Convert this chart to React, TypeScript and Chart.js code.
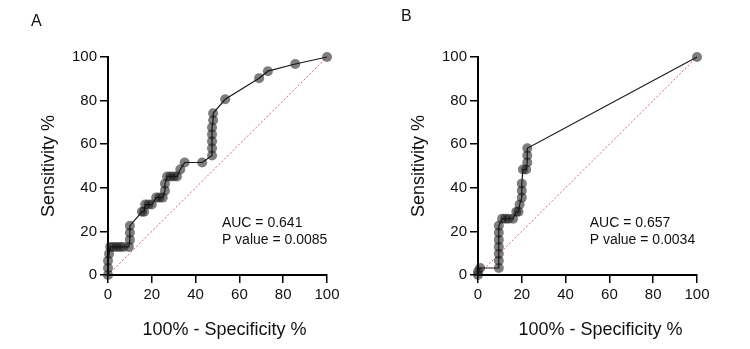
import React, { useEffect, useRef } from "react";
import { Chart, registerables } from "chart.js";

Chart.register(...registerables);

const FONT = "'Liberation Sans', Arial, Helvetica, sans-serif";

// Cohort A ROC curve: 100% - specificity (%) and sensitivity (%)
const rocAFpr = [
  0, 0, 0, 0.5, 1, 2.5, 4, 5.5, 7, 9.5, 10, 10, 10, 15.5, 16.5, 17, 18.5, 20,
  22, 23.5, 25, 26, 26, 27, 28.5, 30, 31.5, 33, 35, 43, 47.5, 47.5, 47.5, 47.5,
  47.5, 48, 48, 53.5, 69, 73, 85.5, 100,
];
const rocASens = [
  0, 3.2, 6.5, 9.7, 12.9, 12.9, 12.9, 12.9, 12.9, 12.9, 16.1, 19.4, 22.6, 29,
  29, 32.3, 32.3, 32.3, 35.5, 35.5, 35.5, 38.7, 41.9, 45.2, 45.2, 45.2, 45.2,
  48.4, 51.6, 51.6, 54.8, 58.1, 61.3, 64.5, 67.7, 71, 74.2, 80.6, 90.3, 93.5,
  96.8, 100,
];

// Cohort B ROC curve
const rocBFpr = [
  0, 0, 1, 9.5, 9.5, 9.5, 9.5, 9.5, 9.5, 9.5, 11, 12.5, 14, 16, 17.5, 18.5, 19,
  20, 20, 20, 20.5, 22, 22.5, 22.5, 22.5, 100,
];
const rocBSens = [
  0, 1.6, 3.2, 3.2, 6.5, 9.7, 12.9, 16.1, 19.4, 22.6, 25.8, 25.8, 25.8, 25.8,
  29, 29, 32.3, 35.5, 38.7, 41.9, 48.4, 48.4, 51.6, 54.8, 58.1, 100,
];

// Line of no discrimination
const chanceX = [0, 100];
const chanceY = [0, 100];

const panelLetters = ["A", "B"];
const aucLabels = ["AUC = 0.641", "AUC = 0.657"];
const pLabels = ["P value = 0.0085", "P value = 0.0034"];
// where the AUC / P value block starts, in axis units
const statsAnchorX = [52, 51];
const statsAnchorY = [24, 24];

const xTitle = "100% - Specificity %";
const yTitle = "Sensitivity %";

const CANVAS_W = 375;
const CANVAS_H = 349;

type PanelOpts = {
  letter: string;
  auc: string;
  p: string;
  ax: number;
  ay: number;
  xTitleShift: number;
  letterY: number;
};

const panelText = {
  id: "panelText",
  afterDraw(chart: any, _args: any, opts: PanelOpts) {
    const { ctx, chartArea, scales } = chart;
    ctx.save();
    ctx.fillStyle = "#111";

    // panel letter
    ctx.font = `16px ${FONT}`;
    ctx.textAlign = "left";
    ctx.textBaseline = "middle";
    ctx.fillText(opts.letter, 31, opts.letterY);

    // statistics block
    ctx.font = `14px ${FONT}`;
    const sx = scales.x.getPixelForValue(opts.ax);
    const sy = scales.y.getPixelForValue(opts.ay);
    ctx.fillText(opts.auc, sx, sy);
    ctx.fillText(opts.p, sx, sy + 17);

    // axis titles
    ctx.font = `18px ${FONT}`;
    ctx.textAlign = "center";
    ctx.fillText(xTitle, (chartArea.left + chartArea.right) / 2 + opts.xTitleShift, 330);
    ctx.translate(49, (chartArea.top + chartArea.bottom) / 2);
    ctx.rotate(-Math.PI / 2);
    ctx.fillText(yTitle, 0, 0);
    ctx.restore();
  },
};

function axis(fitKey: "width" | "height", size: number) {
  return {
    type: "linear" as const,
    min: 0,
    max: 100,
    ticks: {
      stepSize: 20,
      color: "#111",
      font: { size: 15, family: FONT },
      padding: 3,
    },
    grid: {
      drawOnChartArea: false,
      drawTicks: true,
      tickLength: 8,
      color: "#000",
      lineWidth: 1.5,
    },
    border: { display: true, color: "#000", width: 2 },
    afterFit(scale: any) {
      scale[fitKey] = size;
    },
  };
}

function RocPanel({ idx, left, fpr, sens, xTitleShift, letterY }: {
  idx: number;
  left: number;
  fpr: number[];
  sens: number[];
  xTitleShift: number;
  letterY: number;
}) {
  const ref = useRef<HTMLCanvasElement | null>(null);

  useEffect(() => {
    if (!ref.current) return;
    const chart = new Chart(ref.current, {
      type: "line",
      data: {
        datasets: [
          {
            data: fpr.map((x, i) => ({ x, y: sens[i] })),
            borderColor: "#1a1a1a",
            borderWidth: 1.2,
            pointRadius: 5,
            pointBackgroundColor: "rgba(20,20,20,0.55)",
            pointBorderWidth: 0,
            tension: 0,
            clip: false as any,
          },
          {
            data: chanceX.map((x, i) => ({ x, y: chanceY[i] })),
            borderColor: "rgba(228,85,85,0.95)",
            borderWidth: 1,
            borderDash: [2, 2],
            pointRadius: 0,
            tension: 0,
          },
        ],
      },
      options: {
        responsive: false,
        animation: false,
        devicePixelRatio: 1,
        layout: { padding: { left: 0, top: 57, right: 48, bottom: 0 } },
        scales: {
          x: axis("height", 74),
          y: axis("width", 108),
        },
        plugins: {
          legend: { display: false },
          tooltip: { enabled: false },
          panelText: {
            letter: panelLetters[idx],
            auc: aucLabels[idx],
            p: pLabels[idx],
            ax: statsAnchorX[idx],
            ay: statsAnchorY[idx],
            xTitleShift,
            letterY,
          },
        } as any,
      },
      plugins: [panelText],
    });
    return () => chart.destroy();
  }, [idx, fpr, sens, xTitleShift, letterY]);

  return (
    <canvas
      ref={ref}
      width={CANVAS_W}
      height={CANVAS_H}
      style={{ position: "absolute", left, top: 0, width: CANVAS_W, height: CANVAS_H }}
    />
  );
}

export default function App() {
  return (
    <div style={{ position: "absolute", left: 0, top: 0, width: 750, height: 349, background: "#fff" }}>
      <RocPanel idx={0} left={0} fpr={rocAFpr} sens={rocASens} xTitleShift={7} letterY={22} />
      <RocPanel idx={1} left={370} fpr={rocBFpr} sens={rocBSens} xTitleShift={13} letterY={17} />
    </div>
  );
}
